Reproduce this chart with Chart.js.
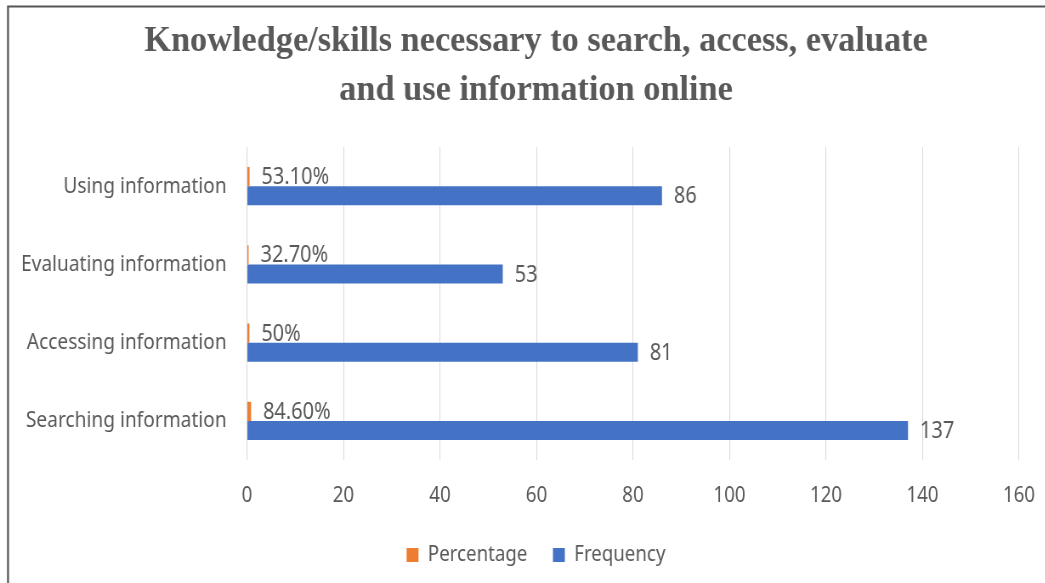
<!DOCTYPE html>
<html>
<head>
<meta charset="utf-8">
<script src="https://cdn.jsdelivr.net/npm/chart.js@4.4.1/dist/chart.umd.min.js"></script>
<style>
  html, body { margin: 0; padding: 0; background: #fff; overflow: hidden; }
  #wrap { height: 583px; transform-origin: 0 0; }
</style>
</head>
<body>
<div id="wrap"><canvas id="chart"></canvas></div>
<script>
// ---- data ----
const categories = ['Using information', 'Evaluating information', 'Accessing information', 'Searching information'];
const percentage = [0.531, 0.327, 0.5, 0.846];
const frequency = [86, 53, 81, 137];
const xTicks = [0, 20, 40, 60, 80, 100, 120, 140, 160];
const seriesNames = ['Percentage', 'Frequency'];
const titleLines = ['Knowledge/skills necessary to search, access, evaluate', 'and use information online'];

// ---- look ----
const SX = 0.85;                 // horizontal squeeze of the whole drawing
const VIEW_W = 1045;
const VIEW_H = 583;
const CANVAS_W = Math.round(VIEW_W / SX);
const PLOT_LEFT = 247 / SX;
const PLOT_RIGHT = 1019 / SX;
const CENTER_X = 536 / SX;       // centre line for title and legend
const TEXT = '#595959';
const FONT = '"Noto Sans", "Open Sans", sans-serif';

const wrap = document.getElementById('wrap');
wrap.style.width = CANVAS_W + 'px';
wrap.style.transform = `scaleX(${SX})`;
const canvas = document.getElementById('chart');
canvas.width = CANVAS_W;
canvas.height = VIEW_H;

function fmtPct(v) {
  const p = Math.round(v * 10000) / 100;
  return Number.isInteger(p) ? p + '%' : p.toFixed(2) + '%';
}
const labelFormats = [fmtPct, (v) => String(v)];

// white page, dark frame on the left and top, serif title
const frame = {
  id: 'frame',
  beforeDraw(chart) {
    const { ctx, width, height } = chart;
    ctx.save();
    ctx.fillStyle = '#fff';
    ctx.fillRect(0, 0, width, height);
    ctx.strokeStyle = '#555';
    ctx.lineWidth = 2.2;
    ctx.beginPath();
    ctx.moveTo(9.4, height + 4);
    ctx.lineTo(9.4, 6.5);
    ctx.lineTo(width + 4, 6.5);
    ctx.stroke();

    // title is drawn unsqueezed
    ctx.translate(CENTER_X, 0);
    ctx.scale(0.98 / SX, 1);
    ctx.font = 'bold 35px "Liberation Serif", "Times New Roman", serif';
    ctx.fillStyle = TEXT;
    ctx.textAlign = 'center';
    ctx.textBaseline = 'alphabetic';
    ctx.fillText(titleLines[0], 0, 51);
    ctx.fillText(titleLines[1], 0, 100);
    ctx.restore();
  }
};

// keep the legend on the same centre line as the title
const centerLegend = {
  id: 'centerLegend',
  afterLayout(chart) {
    const box = chart.legend;
    if (!box) return;
    const d = CENTER_X - (box.left + box.right) / 2;
    box.left += d;
    box.right += d;
  }
};

// value labels right of each bar
const barLabels = {
  id: 'barLabels',
  afterDatasetsDraw(chart) {
    const ctx = chart.ctx;
    ctx.save();
    ctx.font = '23.5px ' + FONT;
    ctx.fillStyle = TEXT;
    ctx.textAlign = 'left';
    ctx.textBaseline = 'middle';
    chart.data.datasets.forEach((ds, i) => {
      chart.getDatasetMeta(i).data.forEach((bar, j) => {
        ctx.fillText(labelFormats[i](ds.data[j]), bar.x + 14, bar.y + 1);
      });
    });
    ctx.restore();
  }
};

new Chart(canvas, {
  type: 'bar',
  data: {
    labels: categories,
    datasets: [
      {
        label: seriesNames[0],
        data: percentage,
        backgroundColor: '#ED7D31',
        categoryPercentage: 0.49,
        barPercentage: 1,
      },
      {
        label: seriesNames[1],
        data: frequency,
        backgroundColor: '#4472C4',
        categoryPercentage: 0.49,
        barPercentage: 1,
      },
    ],
  },
  options: {
    indexAxis: 'y',
    responsive: false,
    animation: false,
    layout: { padding: { left: 0, right: CANVAS_W - PLOT_RIGHT, top: 147, bottom: 7 } },
    plugins: {
      title: { display: false },
      legend: {
        position: 'bottom',
        labels: {
          boxWidth: 14,
          boxHeight: 14,
          padding: 30,
          color: TEXT,
          font: { family: FONT, size: 22 },
        },
      },
      tooltip: { enabled: false },
    },
    scales: {
      x: {
        min: 0,
        max: 160,
        afterBuildTicks: (scale) => { scale.ticks = xTicks.map((v) => ({ value: v })); },
        afterFit: (scale) => {
          scale.height = 54;
          scale.paddingLeft = 0;
          scale.paddingRight = 0;
        },
        grid: { color: '#D9D9D9', drawTicks: false },
        border: { display: false },
        ticks: { padding: 23, color: TEXT, font: { family: FONT, size: 22 } },
      },
      y: {
        afterFit: (scale) => { scale.width = PLOT_LEFT; },
        grid: { display: false, drawTicks: false },
        border: { display: false },
        ticks: { padding: 24, color: TEXT, font: { family: FONT, size: 22.5 } },
      },
    },
  },
  plugins: [frame, centerLegend, barLabels],
});
</script>
</body>
</html>
